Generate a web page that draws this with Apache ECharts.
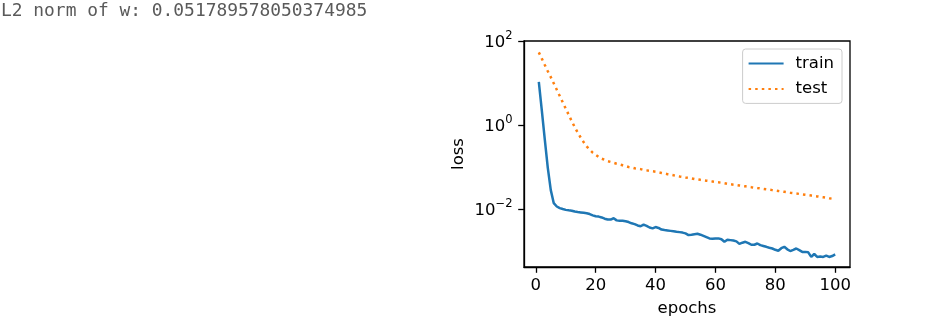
<!DOCTYPE html>
<html>
<head>
<meta charset="utf-8">
<script src="https://cdn.jsdelivr.net/npm/echarts@6/dist/echarts.min.js"></script>
<style>
html,body{margin:0;padding:0;background:#fff;}
#chart{width:947px;height:327px;}
</style>
</head>
<body>
<div id="chart"></div>
<script>
const headerText = 'L2 norm of w: 0.051789578050374985';
const epochs = [1,2,3,4,5,6,7,8,9,10,11,12,13,14,15,16,17,18,19,20,21,22,23,24,25,26,27,28,29,30,31,32,33,34,35,36,37,38,39,40,41,42,43,44,45,46,47,48,49,50,51,52,53,54,55,56,57,58,59,60,61,62,63,64,65,66,67,68,69,70,71,72,73,74,75,76,77,78,79,80,81,82,83,84,85,86,87,88,89,90,91,92,93,94,95,96,97,98,99,100];
const trainLoss = [10.7,2.24,0.447,0.0955,0.0282,0.0138,0.0115,0.0105,0.0100,0.00955,
0.00933,0.00912,0.00871,0.00851,0.00832,0.00813,0.00794,0.00759,0.00708,0.00676,
0.00661,0.00631,0.00589,0.00562,0.00562,0.00603,0.00537,0.00525,0.00525,0.00513,
0.00490,0.00457,0.00437,0.00407,0.00389,0.00427,0.00398,0.00363,0.00347,0.00372,
0.00355,0.00324,0.00316,0.00309,0.00302,0.00295,0.00288,0.00282,0.00275,0.00263,
0.00240,0.00245,0.00251,0.00257,0.00245,0.00229,0.00214,0.00200,0.00195,0.00200,
0.00200,0.00191,0.00166,0.00186,0.00182,0.00178,0.00170,0.00148,0.00158,0.00166,
0.00155,0.00141,0.00141,0.00151,0.00138,0.00132,0.00126,0.00120,0.00115,0.00107,
0.00102,0.00117,0.00126,0.00110,0.00100,0.00107,0.00115,0.00105,0.000955,0.000955,
0.000933,0.000724,0.000851,0.000724,0.000741,0.000724,0.000776,0.000724,0.000759,0.000832];
const testLoss = [53.7,38.0,26.9,19.1,13.8,9.77,6.92,4.90,3.47,2.45,
1.74,1.23,0.891,0.661,0.501,0.389,0.309,0.257,0.219,0.195,
0.174,0.158,0.148,0.138,0.132,0.126,0.120,0.115,0.110,0.105,
0.100,0.0977,0.0933,0.0912,0.0891,0.0851,0.0832,0.0813,0.0794,0.0776,
0.0750,0.0724,0.0700,0.0676,0.0661,0.0638,0.0617,0.0596,0.0582,0.0562,
0.0550,0.0537,0.0519,0.0507,0.0495,0.0484,0.0473,0.0462,0.0452,0.0442,
0.0432,0.0422,0.0412,0.0398,0.0389,0.0380,0.0372,0.0363,0.0355,0.0347,
0.0339,0.0331,0.0324,0.0316,0.0309,0.0302,0.0295,0.0288,0.0282,0.0275,
0.0269,0.0263,0.0257,0.0251,0.0245,0.0240,0.0234,0.0229,0.0224,0.0219,
0.0214,0.0209,0.0204,0.0200,0.0195,0.0191,0.0186,0.0180,0.0176,0.0172];
const xTicks = [0,20,40,60,80,100];
const yTicks = [0.01,1,100];
const seriesNames = ['train','test'];

const FONT = 'DejaVu Sans';
const chart = echarts.init(document.getElementById('chart'), null, {renderer:'canvas'});
const pairs = (ys) => epochs.map((e,i)=>[e, ys[i]]);
const supFmt = (v) => {
  const e = Math.round(Math.log10(v));
  return '{b|10}{s|' + (e < 0 ? '\u2212' + (-e) : String(e)) + '}';
};
chart.setOption({
  animation: false,
  backgroundColor: '#ffffff',
  graphic: [{
    type: 'text', left: 1, top: 2,
    style: {text: headerText, font: '17.9px "DejaVu Sans Mono"', fill: '#5a5a5a'}
  }],
  grid: {left: 524, top: 41, width: 326, height: 226, show: true, borderColor: '#000', borderWidth: 1.3, backgroundColor: 'transparent'},
  legend: {
    orient: 'vertical', right: 105, top: 49,
    padding: [6, 8, 6, 5],
    itemWidth: 35, itemHeight: 14, itemGap: 8.4, itemTextGap: 14,
    borderColor: '#cccccc', borderWidth: 1, borderRadius: 3, backgroundColor: 'rgba(255,255,255,0.8)',
    itemStyle: {opacity: 0},
    textStyle: {fontFamily: FONT, fontSize: 16.5, color: '#000', lineHeight: 16, padding: [0, 0, 0, 7]},
    data: seriesNames
  },
  xAxis: {
    type: 'value', min: -3.95, max: 104.95,
    name: 'epochs', nameLocation: 'middle', nameGap: 33,
    nameTextStyle: {fontFamily: FONT, fontSize: 16.5, color: '#000'},
    axisLine: {show: true, onZero: false, lineStyle: {color: '#000', width: 1.3}},
    axisTick: {show: true, length: 5.8, inside: false, customValues: xTicks, lineStyle: {color: '#000', width: 1.3}},
    axisLabel: {customValues: xTicks, margin: 10, fontFamily: FONT, fontSize: 16.5, color: '#000'},
    splitLine: {show: false}
  },
  yAxis: {
    type: 'log', logBase: 10, min: 4.17e-4, max: 100,
    name: 'loss', nameLocation: 'middle', nameGap: 57,
    nameTextStyle: {fontFamily: FONT, fontSize: 16.5, color: '#000'},
    axisLine: {show: true, onZero: false, lineStyle: {color: '#000', width: 1.3}},
    axisTick: {show: true, length: 5.8, inside: false, customValues: yTicks, lineStyle: {color: '#000', width: 1.3}},
    axisLabel: {
      customValues: yTicks, margin: 11.5, formatter: supFmt,
      fontFamily: FONT, color: '#000',
      rich: {
        b: {fontFamily: FONT, fontSize: 16.5, color: '#000', lineHeight: 22, verticalAlign: 'middle', padding: [3,0,0,0]},
        s: {fontFamily: FONT, fontSize: 11.5, color: '#000', lineHeight: 12, verticalAlign: 'top'}
      }
    },
    splitLine: {show: false}
  },
  series: [
    {name: 'train', type: 'line', data: pairs(trainLoss), symbol: 'none', smooth: false,
     lineStyle: {color: '#1f77b4', width: 2.5}, itemStyle: {color: '#1f77b4'}},
    {name: 'test', type: 'line', data: pairs(testLoss), symbol: 'none', smooth: false,
     lineStyle: {color: '#ff7f0e', width: 2.5, type: [2.5, 4.1], cap: 'butt'}, itemStyle: {color: '#ff7f0e'}}
  ]
});
</script>
</body>
</html>
